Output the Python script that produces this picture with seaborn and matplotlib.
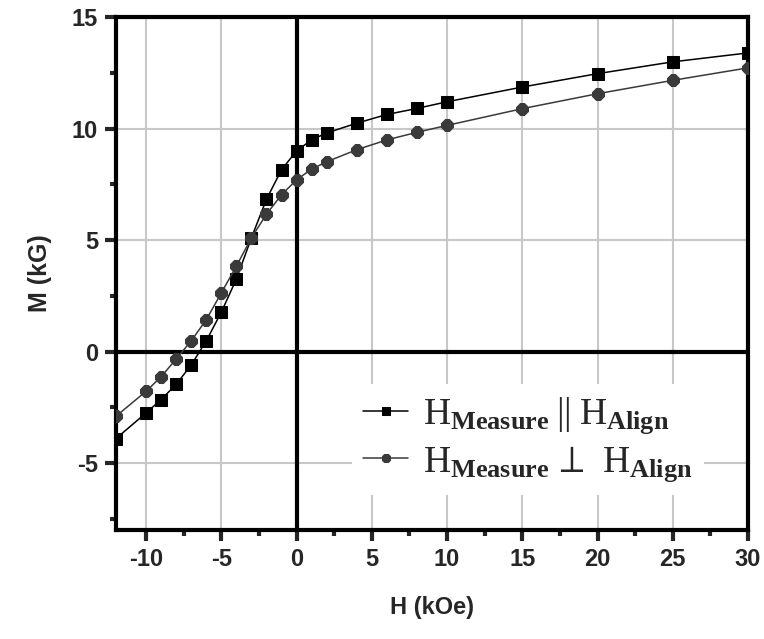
import matplotlib
matplotlib.use("Agg")
import matplotlib.pyplot as plt
import seaborn as sns
import pandas as pd
from matplotlib.ticker import MultipleLocator

# Data
H = [-12, -10, -9, -8, -7, -6, -5, -4, -3, -2, -1, 0, 1, 2, 4, 6, 8, 10, 15, 20, 25, 30]
M_parallel = [-3.9, -2.75, -2.15, -1.47, -0.6, 0.48, 1.77, 3.25, 5.1, 6.83, 8.15, 9.0,
              9.49, 9.8, 10.24, 10.63, 10.9, 11.2, 11.86, 12.46, 12.99, 13.39]
M_perp = [-2.9, -1.78, -1.13, -0.33, 0.48, 1.43, 2.63, 3.83, 5.1, 6.16, 7.03, 7.7,
          8.18, 8.51, 9.05, 9.49, 9.83, 10.14, 10.89, 11.56, 12.16, 12.72]
label_par = r'$\mathrm{H}_{\mathbf{Measure}}\;||\;\mathrm{H}_{\mathbf{Align}}$'
label_perp = r'$\mathrm{H}_{\mathbf{Measure}}\,\perp\;\,\mathrm{H}_{\mathbf{Align}}$'

sns.set_style("white")
plt.rcParams['font.family'] = ['Liberation Sans', 'DejaVu Sans']
plt.rcParams['axes.unicode_minus'] = False
plt.rcParams['mathtext.fontset'] = 'custom'
plt.rcParams['mathtext.rm'] = 'Liberation Serif'
plt.rcParams['mathtext.bf'] = 'Liberation Serif:bold'
plt.rcParams['mathtext.it'] = 'Liberation Serif:italic'

df1 = pd.DataFrame({"H": H, "M": M_parallel})
df2 = pd.DataFrame({"H": H, "M": M_perp})

fig = plt.figure(figsize=(7.64, 6.39), dpi=100)
ax = fig.add_axes([116 / 764, 1 - 530 / 639, (748 - 116) / 764, (530 - 17) / 639])

ax.grid(True, color="#c8c8c8", linewidth=1.5, zorder=0)
ax.set_axisbelow(True)
ax.axhline(0, color="black", linewidth=3, zorder=1)
ax.axvline(0, color="black", linewidth=3, zorder=1)

sns.lineplot(data=df1, x="H", y="M", ax=ax, color="black", marker="s", markersize=8,
             markeredgecolor="black", linewidth=1.1, sort=False, label=label_par, zorder=3)
sns.lineplot(data=df2, x="H", y="M", ax=ax, color="#3a3a3a", marker="8", markersize=9,
             markeredgecolor="#3a3a3a", linewidth=1.1, sort=False, label=label_perp, zorder=3)

ax.set_xlim(-12, 30)
ax.set_ylim(-8, 15)
ax.xaxis.set_major_locator(MultipleLocator(5))
ax.xaxis.set_minor_locator(MultipleLocator(2.5))
ax.yaxis.set_major_locator(MultipleLocator(5))
ax.yaxis.set_minor_locator(MultipleLocator(2.5))
ax.tick_params(axis="both", which="major", direction="out", length=8, width=3,
               labelsize=17, bottom=True, left=True, top=False, right=False, pad=5)
ax.tick_params(axis="both", which="minor", direction="out", length=4, width=3,
               bottom=True, left=True, top=False, right=False)
for lab in ax.get_xticklabels() + ax.get_yticklabels():
    lab.set_fontweight("bold")

for sp in ax.spines.values():
    sp.set_linewidth(3)
    sp.set_color("black")
    sp.set_visible(True)

ax.set_xlabel("H (kOe)", fontsize=17, fontweight="bold", labelpad=18)
ax.set_ylabel("M (kG)", fontsize=18, fontweight="bold", labelpad=14)

leg = ax.legend(loc="upper left", bbox_to_anchor=((352 - 116) / 632, 1 - (384 - 17) / 513),
                fontsize=27, frameon=True, facecolor="white", edgecolor="none", framealpha=1,
                handlelength=1.2, handletextpad=0.4, labelspacing=0.2, borderpad=0.3,
                borderaxespad=0, markerscale=0.75)
leg.set_zorder(5)

fig.savefig("out.png", dpi=100)
